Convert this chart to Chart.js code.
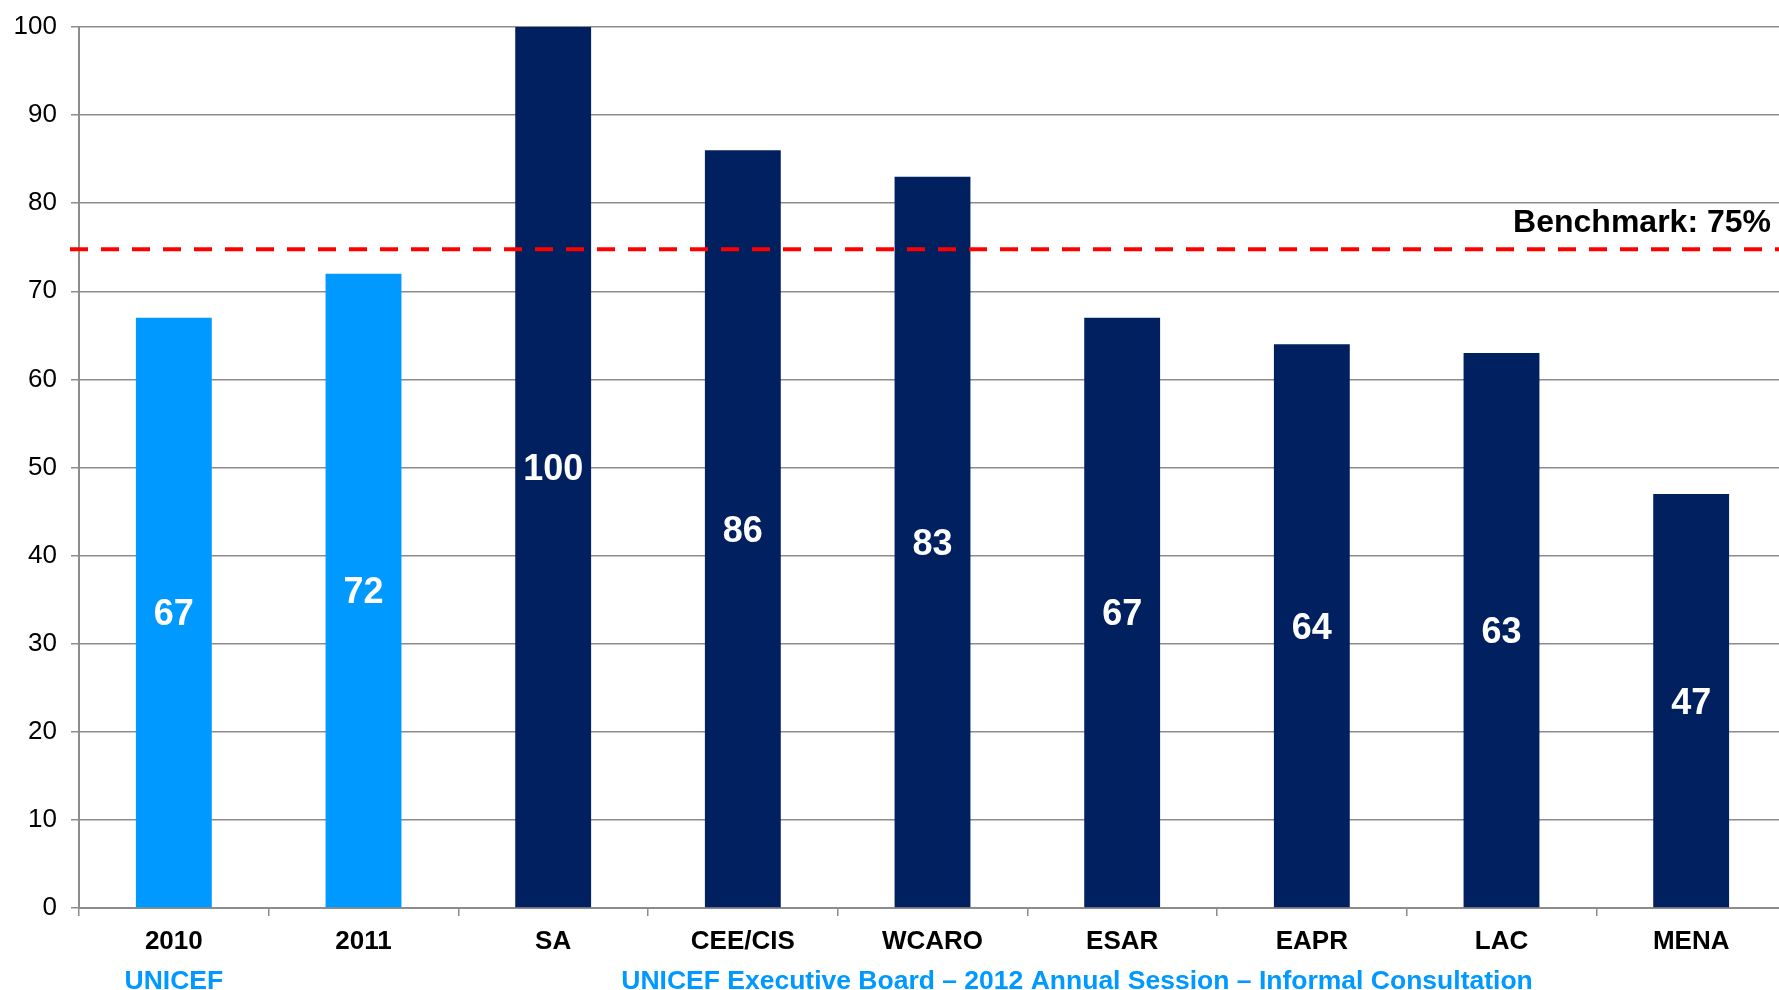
<!DOCTYPE html>
<html lang="en">
<head>
    <meta charset="UTF-8">
    <title>Benchmark chart</title>
    <script src="https://cdn.jsdelivr.net/npm/chart.js"></script>
    <style>
        html, body { margin: 0; padding: 0; background: #ffffff; overflow: hidden; }
        .box { width: 1779px; height: 990px; position: relative; overflow: hidden; }
    </style>
</head>
<body>
    <div class="box">
        <canvas id="myChart"></canvas>
    </div>

<script>
    // dados
    const categorias = ['2010', '2011', 'SA', 'CEE/CIS', 'WCARO', 'ESAR', 'EAPR', 'LAC', 'MENA'];
    const valores = [67, 72, 100, 86, 83, 67, 64, 63, 47];
    const cores = ['#0099ff', '#0099ff', '#00205f', '#00205f', '#00205f', '#00205f', '#00205f', '#00205f', '#00205f'];
    const benchmark = 75;
    const textoBenchmark = 'Benchmark: 75%';
    const rodapeEsq = 'UNICEF';
    const rodapeCentro = 'UNICEF Executive Board \u2013 2012 Annual Session \u2013 Informal Consultation';

    const fonte = '"Liberation Sans", Arial, sans-serif';
    const larguraVisivel = 1779;

    // rotulos brancos no meio das barras
    const rotulosBarras = {
        id: 'rotulosBarras',
        afterDatasetsDraw(chart) {
            const ctx = chart.ctx;
            const meta = chart.getDatasetMeta(0);
            ctx.save();
            ctx.fillStyle = '#ffffff';
            ctx.font = 'bold 36px ' + fonte;
            ctx.textAlign = 'center';
            ctx.textBaseline = 'middle';
            meta.data.forEach(function (bar, i) {
                const meio = (bar.y + bar.base) / 2;
                ctx.fillText(String(valores[i]), bar.x, meio + 3);
            });
            ctx.restore();
        }
    };

    // linha do benchmark + rodape
    const linhaBenchmark = {
        id: 'linhaBenchmark',
        afterDatasetsDraw(chart) {
            const ctx = chart.ctx;
            const y = chart.scales.y.getPixelForValue(benchmark) + 2;
            const area = chart.chartArea;
            ctx.save();
            ctx.strokeStyle = '#ff0000';
            ctx.lineWidth = 4;
            ctx.setLineDash([18, 13]);
            ctx.beginPath();
            ctx.moveTo(area.left - 9, y);
            ctx.lineTo(chart.width, y);
            ctx.stroke();
            ctx.setLineDash([]);

            ctx.fillStyle = '#000000';
            ctx.font = 'bold 32px ' + fonte;
            ctx.textAlign = 'right';
            ctx.textBaseline = 'middle';
            ctx.fillText(textoBenchmark, larguraVisivel - 8, y - 26);
            ctx.restore();
        },
        afterDraw(chart) {
            const ctx = chart.ctx;
            const x0 = chart.scales.x.getPixelForValue(0);
            ctx.save();
            ctx.fillStyle = '#0099ff';
            ctx.font = 'bold 26.5px ' + fonte;
            ctx.textAlign = 'center';
            ctx.textBaseline = 'middle';
            ctx.fillText(rodapeEsq, x0, 982);
            ctx.fillText(rodapeCentro, 1077, 982);
            ctx.restore();
        }
    };

    const data = {
        labels: categorias,
        datasets: [{
            data: valores,
            backgroundColor: cores,
            borderWidth: 0,
            barPercentage: 0.4,
            categoryPercentage: 1.0
        }]
    };

    const config = {
        type: 'bar',
        data: data,
        options: {
            responsive: false,
            animation: false,
            devicePixelRatio: 1,
            layout: { padding: { top: 17, right: 0, left: 0, bottom: 0 } },
            plugins: {
                legend: { display: false },
                tooltip: { enabled: false }
            },
            scales: {
                x: {
                    afterFit(scale) { scale.height = 82; },
                    grid: {
                        offset: true,
                        drawOnChartArea: false,
                        drawTicks: true,
                        tickLength: 8,
                        color: '#8c8c8c',
                        lineWidth: 1.5
                    },
                    border: { display: true, color: '#8c8c8c', width: 2 },
                    ticks: {
                        color: '#000000',
                        font: { family: fonte, size: 26, weight: 'bold' },
                        padding: 10,
                        maxRotation: 0
                    }
                },
                y: {
                    min: 0,
                    max: 100,
                    afterFit(scale) { scale.width = 79; },
                    grid: {
                        color: '#8c8c8c',
                        lineWidth: 1.5,
                        tickLength: 8
                    },
                    border: { display: true, color: '#8c8c8c', width: 2 },
                    ticks: {
                        stepSize: 10,
                        color: '#000000',
                        font: { family: fonte, size: 26, lineHeight: 1 },
                        padding: 14
                    }
                }
            }
        },
        plugins: [rotulosBarras, linhaBenchmark]
    };

    // canvas um pouco mais largo que a janela: a ultima categoria passa da borda
    const canvas = document.getElementById('myChart');
    canvas.width = 1786;
    canvas.height = 990;
    const myChart = new Chart(canvas, config);
</script>
</body>
</html>
